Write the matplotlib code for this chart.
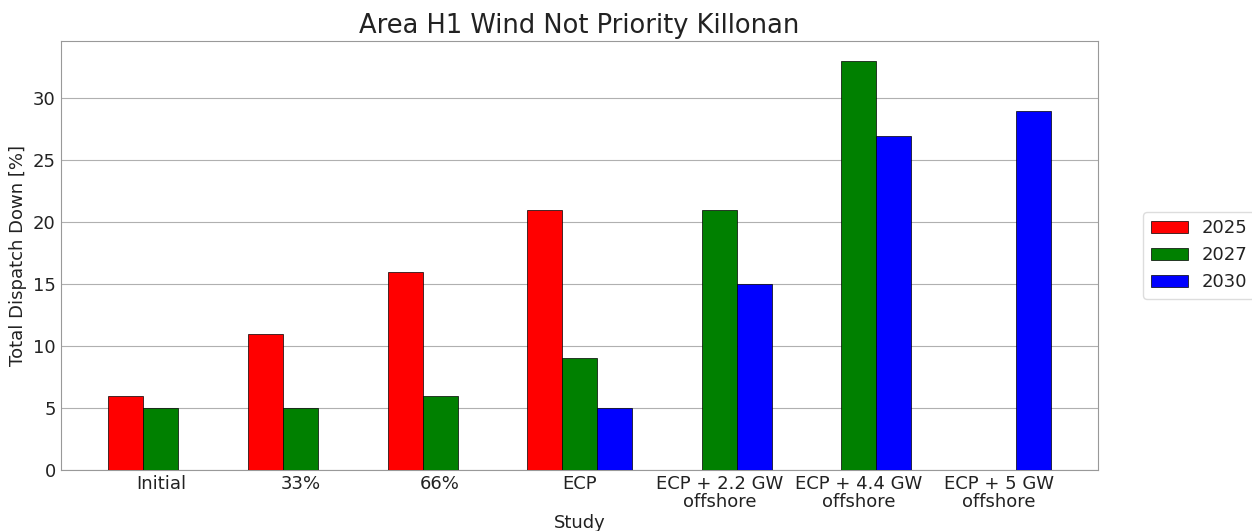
"""Area H1 wind dispatch-down bar chart."""
# %% Imports
import numpy as np
from matplotlib import pyplot as plt

# %% Data
studies = [
    "Initial",
    "33%",
    "66%",
    "ECP",
    "ECP + 2.2 GW\noffshore",
    "ECP + 4.4 GW\noffshore",
    "ECP + 5 GW\noffshore",
]
years = ["2025", "2027", "2030"]
dd_2025 = [6, 11, 16, 21, 0, 0, 0]
dd_2027 = [5, 5, 6, 9, 21, 33, 0]
dd_2030 = [0, 0, 0, 5, 15, 27, 29]
colours = ["red", "green", "blue"]

# %% Plot
plt.rcParams["text.color"] = "#222222"
plt.rcParams["axes.labelcolor"] = "#222222"
plt.rcParams["xtick.color"] = "#222222"
plt.rcParams["ytick.color"] = "#222222"

fig = plt.figure(figsize=(12.52, 5.31), dpi=100)
ax = fig.add_axes([0.049, 0.115, 0.828, 0.808])

x = np.arange(len(studies))
w = 0.25
for k, (vals, yr) in enumerate(zip([dd_2025, dd_2027, dd_2030], years)):
    ax.bar(x + (k - 1) * w, vals, w, color=colours[k], edgecolor="black",
           linewidth=0.5, label=yr, zorder=3)

ax.set_xticks(x)
ax.set_xticklabels(studies, fontsize=13, linespacing=1.0)
ax.tick_params(axis="y", labelsize=13)
ax.tick_params(length=0, pad=4)
ax.yaxis.grid(True, color="#b0b0b0", linewidth=0.8, zorder=0)
for s in ax.spines.values():
    s.set_color("#999999")
ax.set_title("Area H1 Wind Not Priority Killonan", fontsize=18.5)
ax.set_xlabel("Study", fontsize=13, labelpad=2)
ax.set_ylabel("Total Dispatch Down [%]", fontsize=13)
ax.legend(loc="center left", bbox_to_anchor=(1.035, 0.5), fontsize=13,
          handlelength=2.05, borderpad=0.4, framealpha=1,
          edgecolor="#dddddd")

fig.savefig("out.png", dpi=100)
